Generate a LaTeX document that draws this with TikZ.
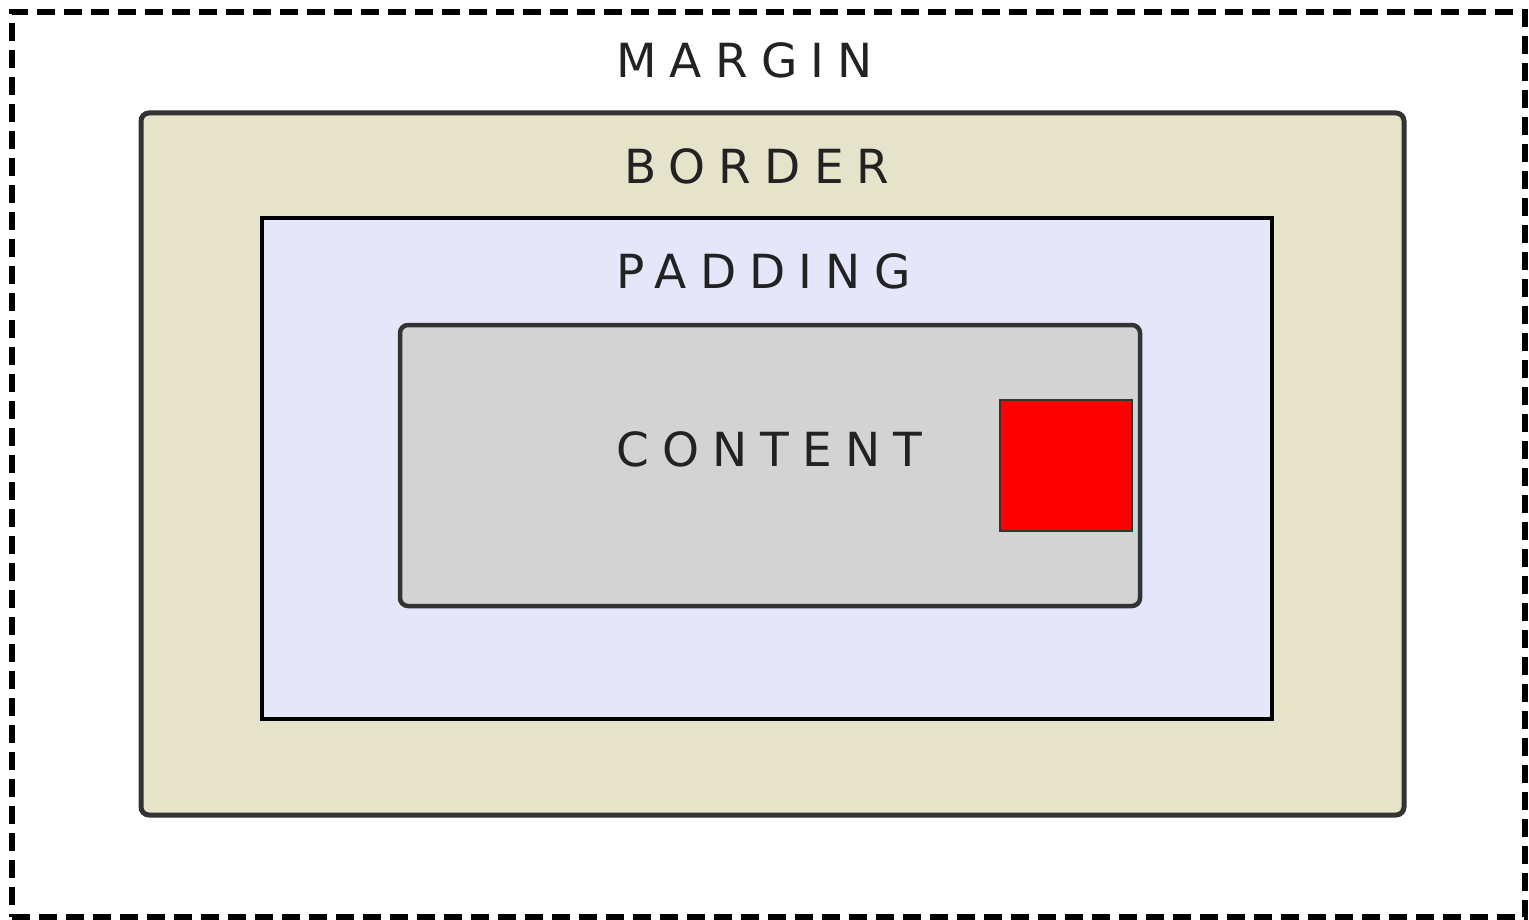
\documentclass[tikz,border=0pt]{standalone}
\usepackage{fontspec}
\setmainfont{DejaVu Sans}
\definecolor{borderfill}{HTML}{E5E3C9}
\definecolor{paddingfill}{HTML}{E6E6FA}
\definecolor{contentfill}{HTML}{D3D3D3}
\definecolor{edge}{HTML}{333333}
\definecolor{labeltext}{HTML}{222222}
\tikzset{
  layer/.style={inner sep=0pt, outer sep=0pt, anchor=north west},
  roundlayer/.style={layer, rounded corners=8pt},
  caption/.style={anchor=base west, inner sep=0pt, text=labeltext,
    font=\fontsize{47}{56}\selectfont\addfontfeature{LetterSpace=28}},
}
\newcommand{\boxat}[6]{% name, style, x0, y0, x1, y1
  \node[#2, minimum width=#5pt-#3pt, minimum height=#6pt-#4pt] (#1) at (#3pt,-#4pt) {};}
\begin{document}
\begin{tikzpicture}[x=1pt,y=1pt]
  \useasboundingbox (0,0) rectangle (1529,-920);
  % margin area (dashed outline)
  \boxat{margin}{layer, draw=black, line width=6pt, dash pattern=on 18pt off 9pt}{12}{12}{1525}{917}
  % border area
  \boxat{border}{roundlayer, fill=borderfill, draw=edge, line width=5pt}{141}{113}{1404}{815}
  % padding area
  \boxat{padding}{layer, fill=paddingfill, draw=black, line width=3.5pt}{262}{218}{1272}{719}
  % content area
  \boxat{content}{roundlayer, fill=contentfill, draw=edge, line width=4.5pt}{400}{325}{1140}{606}
  % an element inside the content
  \boxat{element}{layer, fill=red, draw=edge, line width=1.5pt}{1000}{400}{1132}{531}
  % captions
  \node[caption] (lmargin)  at (616,-78)  {MARGIN};
  \node[caption] (lborder)  at (624,-184) {BORDER};
  \node[caption] (lpadding) at (616,-288) {PADDING};
  \node[caption] (lcontent) at (616,-466) {CONTENT};
\end{tikzpicture}
\end{document}
